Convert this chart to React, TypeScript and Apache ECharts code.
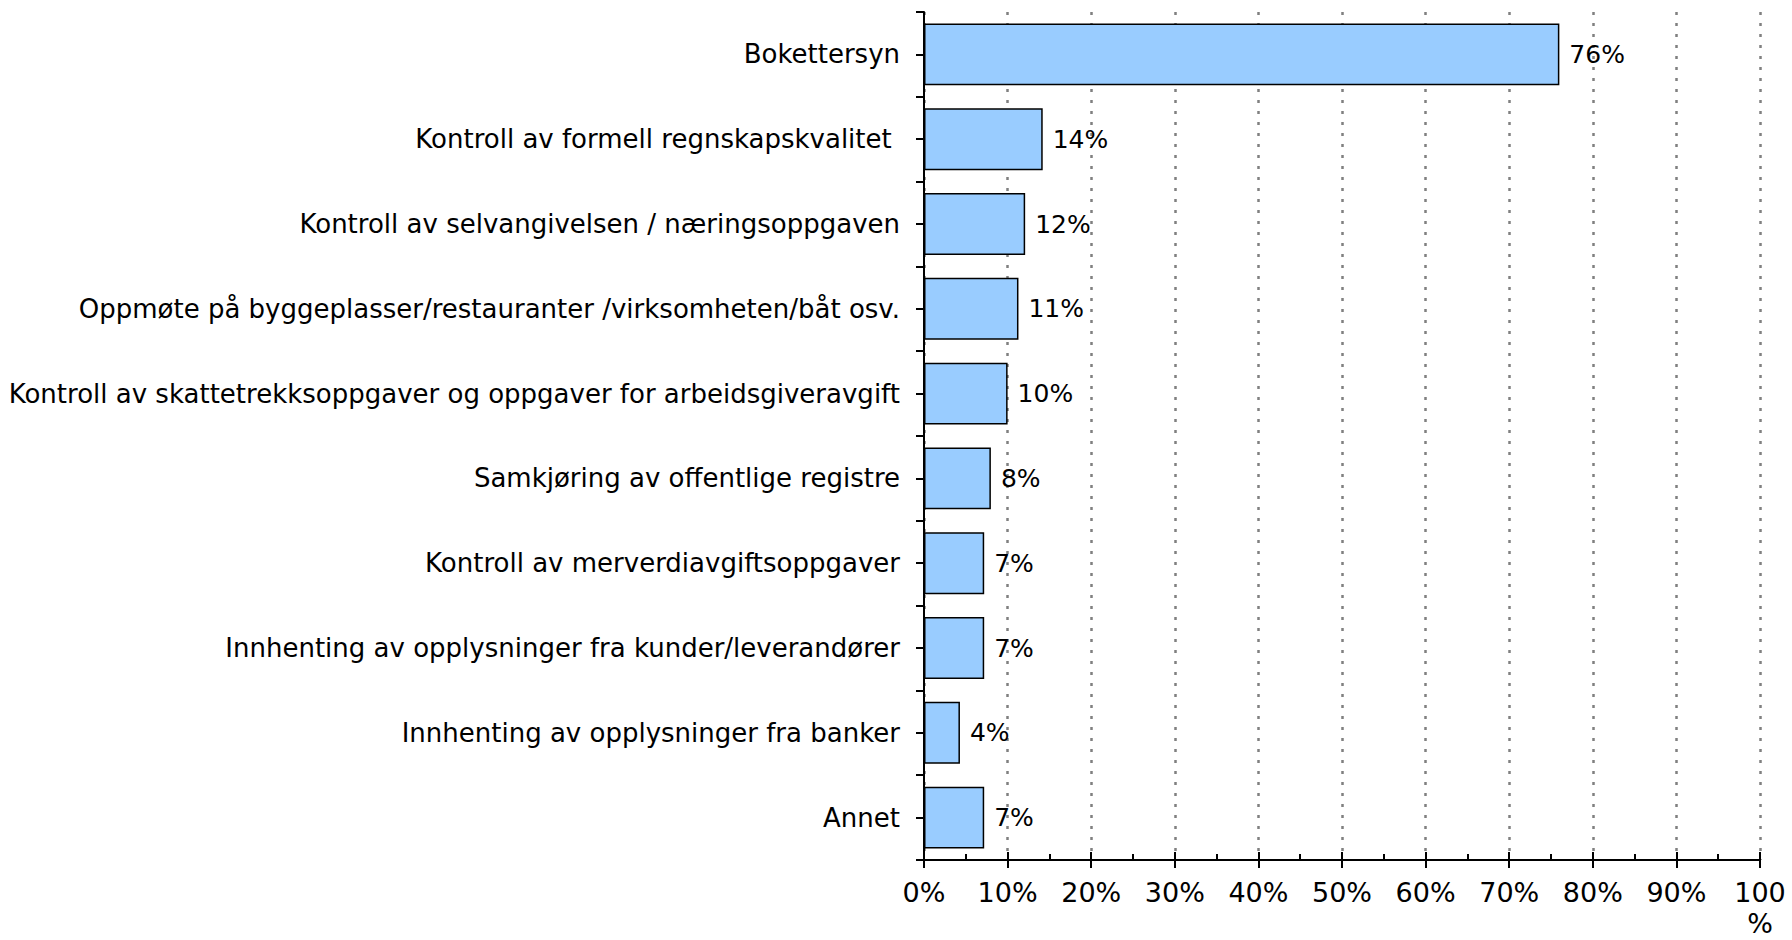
import React, { useEffect, useRef } from "react";
import * as echarts from "echarts";

const categories = [
  "Bokettersyn",
  "Kontroll av formell regnskapskvalitet\u00a0",
  "Kontroll av selvangivelsen / næringsoppgaven",
  "Oppmøte på byggeplasser/restauranter /virksomheten/båt osv.",
  "Kontroll av skattetrekksoppgaver og oppgaver for arbeidsgiveravgift",
  "Samkjøring av offentlige registre",
  "Kontroll av merverdiavgiftsoppgaver",
  "Innhenting av opplysninger fra kunder/leverandører",
  "Innhenting av opplysninger fra banker",
  "Annet",
];
const values = [76, 14.2, 12.1, 11.3, 10, 8, 7.2, 7.2, 4.3, 7.2];
const valueLabels = ["76%", "14%", "12%", "11%", "10%", "8%", "7%", "7%", "4%", "7%"];
const xTickLabels: Record<number, string> = {
  0: "0%", 10: "10%", 20: "20%", 30: "30%", 40: "40%", 50: "50%",
  60: "60%", 70: "70%", 80: "80%", 90: "90%", 100: "100\n%",
};

const FONT = "DejaVu Sans";

export default function App() {
  const ref = useRef<HTMLDivElement>(null);
  useEffect(() => {
    if (!ref.current) return;
    const chart = echarts.init(ref.current, undefined, { renderer: "svg" });
    chart.setOption({
      animation: false,
      backgroundColor: "#ffffff",
      grid: {
        left: 924,
        right: 32,
        top: 12,
        bottom: 80,
        containLabel: false,
        outerBoundsMode: "none",
      },
      xAxis: [
        {
          type: "value",
          position: "bottom",
          min: 0,
          max: 100,
          interval: 10,
          axisLine: { show: true, lineStyle: { color: "#000", width: 2 } },
          axisTick: { show: true, inside: true, length: 8, lineStyle: { color: "#000", width: 2 } },
          minorTick: { show: true, splitNumber: 2, length: 6, lineStyle: { color: "#000", width: 2 } },
          splitLine: { show: true, lineStyle: { color: "#808080", width: 2.5, type: [3, 8] } },
          axisLabel: {
            show: true,
            margin: 17,
            color: "#000",
            fontFamily: FONT,
            fontSize: 27,
            lineHeight: 31,
            formatter: (v: number) => xTickLabels[v] ?? v + "%",
          },
        },
        {
          type: "value",
          position: "bottom",
          min: 0,
          max: 100,
          interval: 10,
          axisLine: { show: false },
          axisTick: { show: true, inside: false, length: 8, lineStyle: { color: "#000", width: 2 } },
          splitLine: { show: false },
          axisLabel: { show: false },
        },
      ],
      yAxis: [
        {
          type: "category",
          position: "left",
          inverse: true,
          data: categories,
          axisLine: { show: true, lineStyle: { color: "#000", width: 2 } },
          axisTick: { show: true, alignWithLabel: false, length: 8, lineStyle: { color: "#000", width: 2 } },
          axisLabel: { show: true, margin: 24, color: "#000", fontFamily: FONT, fontSize: 26 },
        },
        {
          type: "category",
          position: "left",
          inverse: true,
          data: categories,
          axisLine: { show: false },
          axisTick: { show: true, alignWithLabel: true, length: 8, lineStyle: { color: "#000", width: 2 } },
          axisLabel: { show: false },
          splitLine: { show: false },
        },
      ],
      series: [
        {
          type: "bar",
          xAxisIndex: 0,
          yAxisIndex: 0,
          data: values,
          barCategoryGap: "27%",
          itemStyle: { color: "#99CCFF", borderColor: "#000", borderWidth: 1.5 },
          label: {
            show: true,
            position: "right",
            distance: 10,
            color: "#000",
            fontFamily: FONT,
            fontSize: 25,
            formatter: (p: any) => valueLabels[p.dataIndex],
          },
        },
      ],
    });
    return () => chart.dispose();
  }, []);
  return (
    <div
      ref={ref}
      style={{ position: "fixed", left: 0, top: 0, width: 1792, height: 940, background: "#fff" }}
    />
  );
}
